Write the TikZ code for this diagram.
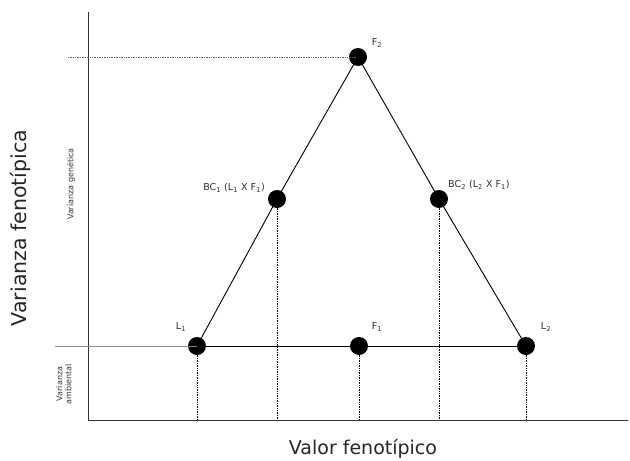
\documentclass[tikz,border=0pt]{standalone}
\usepackage{fontspec}
\setmainfont{DejaVu Sans}
\newcommand{\sbs}[1]{\textsubscript{#1}}
\begin{document}
\begin{tikzpicture}[x=1pt,y=-1pt,
  dot/.style={circle,fill=black,inner sep=0pt,minimum size=18pt},
  lbl/.style={font=\fontsize{9.6}{11}\selectfont,text=black!80,inner sep=1pt},
  small/.style={font=\fontsize{8}{9}\selectfont,text=black!80,inner sep=1pt},
  guide/.style={densely dotted,line width=0.7pt},
  edge/.style={line width=0.9pt}]
\useasboundingbox (0,0) rectangle (630,461);
% axes
\coordinate (ytop) at (88,12);
\coordinate (orig) at (88,420);
\coordinate (xend) at (628,420);
\draw[line width=0.9pt, black!80] (ytop) -- (orig) -- (xend);
% nodes
\node[dot] (F2) at (358,57) {};
\node[dot] (BC1) at (277,199) {};
\node[dot] (BC2) at (439,199) {};
\node[dot] (L1) at (197,346) {};
\node[dot] (F1) at (359,346) {};
\node[dot] (L2) at (526,346) {};
% reference lines
\coordinate (hF2) at (68,57);
\coordinate (hL1) at (55,346);
\draw[guide, black!60] (hF2) -- (F2.center);
\draw[line width=0.6pt, black!45] (hL1) -- (L1.center);
\foreach \n in {L1,BC1,F1,BC2,L2}{
  \coordinate (\n b) at (\n |- orig);
  \draw[guide] (\n.center) -- (\n b);
}
% triangle
\draw[edge] (L1.center) -- (BC1.center) -- (F2.center) -- (BC2.center) -- (L2.center);
\draw[edge] (L1.center) -- (L2.center);
% labels
\node[lbl] (tF2) at (377,43) {F\sbs{2}};
\node[lbl,anchor=east] (tBC1) at (266,188) {BC\sbs{1} (L\sbs{1} X F\sbs{1})};
\node[lbl,anchor=west] (tBC2) at (447,185) {BC\sbs{2} (L\sbs{2} X F\sbs{1})};
\node[lbl] (tL1) at (181,327) {L\sbs{1}};
\node[lbl] (tF1) at (377,327) {F\sbs{1}};
\node[lbl] (tL2) at (546,327) {L\sbs{2}};
% axis titles
\node[rotate=90,font=\fontsize{20.5}{24}\selectfont,text=black!85] (yt) at (20,228) {Varianza fenotípica};
\node[rotate=90,small] (vg) at (71,184) {Varianza genética};
\node[rotate=90,small,align=center] (va) at (64,384) {Varianza\\ambiental};
\node[font=\fontsize{19}{22}\selectfont,text=black!85] (xt) at (363,449) {Valor fenotípico};
\end{tikzpicture}
\end{document}
